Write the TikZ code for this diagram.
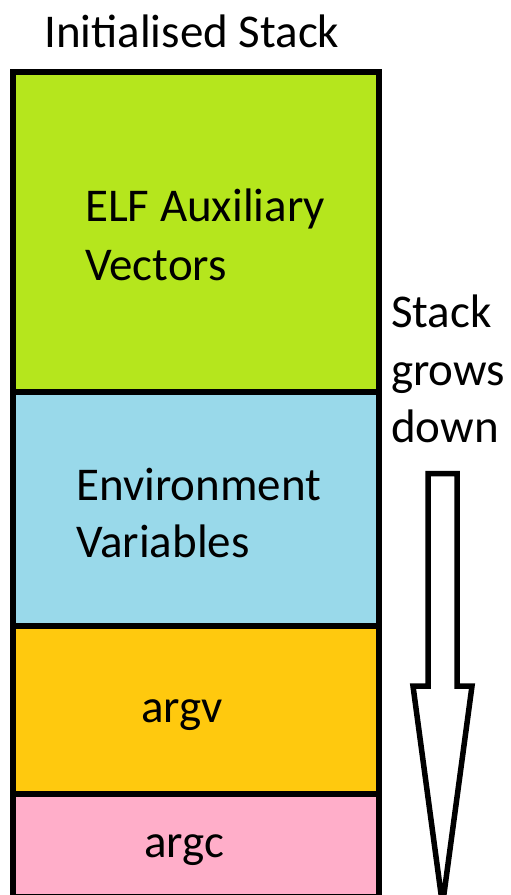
\documentclass[tikz,border=0pt]{standalone}
\usepackage{fontspec}
\setmainfont{Carlito}
\definecolor{elfgreen}{HTML}{B5E61D}
\definecolor{envblue}{HTML}{99D9EA}
\definecolor{argvgold}{HTML}{FFC90E}
\definecolor{argcpink}{HTML}{FFAEC9}
\begin{document}
\begin{tikzpicture}[x=1pt,y=-1pt,
  blk/.style={draw=black,line width=6pt},
  lbl/.style={font=\fontsize{47}{57}\selectfont,inner sep=0pt,anchor=base west,align=left},
  arrowshape/.style={draw=black,line width=5.5pt,fill=white,line join=miter}]
\useasboundingbox (0,0) rectangle (511,895);
\fill[white] (0,0) rectangle (511,895);
% blocks
\filldraw[blk,fill=elfgreen] (12.5,72) rectangle (378.5,391.5);
\filldraw[blk,fill=envblue] (12.5,391.5) rectangle (378.5,626);
\filldraw[blk,fill=argvgold] (12.5,626) rectangle (378.5,794);
\filldraw[blk,fill=argcpink] (12.5,794) rectangle (378.5,897);
% labels
\node[lbl] (title) at (44,47) {Initialised Stack};
\node[lbl] (elf1) at (85,221) {ELF Auxiliary};
\node[lbl] (elf2) at (85,280) {Vectors};
\node[lbl] (env1) at (76,500) {Environment};
\node[lbl] (env2) at (76,557) {Variables};
\node[lbl,anchor=base] (argv) at (182,722) {argv};
\node[lbl,anchor=base] (argc) at (184,857) {argc};
\node[lbl] (sg1) at (391,327) {Stack};
\node[lbl] (sg2) at (391,385) {grows};
\node[lbl] (sg3) at (391,442) {down};
% arrow
\draw[arrowshape] (428,473.5) -- (457,473.5) -- (457,686) -- (472,686)
  -- (442.5,905) -- (413,686) -- (428,686) -- cycle;
\end{tikzpicture}
\end{document}
